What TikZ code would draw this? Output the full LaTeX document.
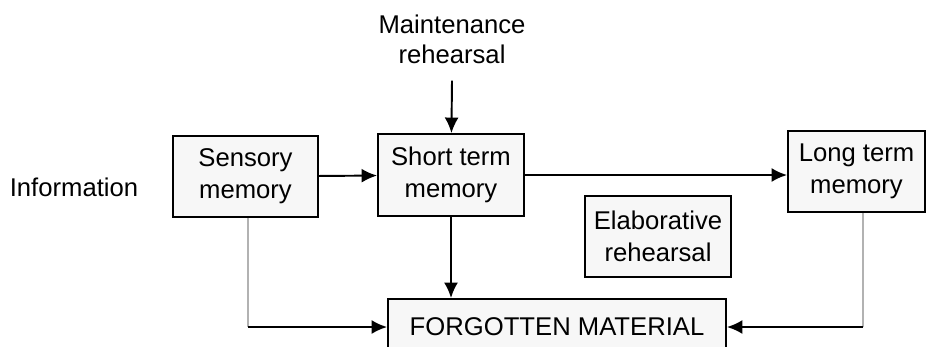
\documentclass[tikz,border=0pt]{standalone}
\usepackage{fontspec}
\setmainfont{Liberation Sans}
\usetikzlibrary{arrows.meta}

\tikzset{
  memorybox/.style={draw, line width=1.1pt, fill=gray!6, align=center, inner sep=2pt},
  flow/.style={-{Latex[length=3.1mm, width=2.8mm]}, line width=1.1pt},
  faint/.style={draw=gray!60, line width=1pt}
}

\begin{document}
\begin{tikzpicture}[x=0.02cm, y=-0.02cm, font=\fontsize{14.6pt}{18pt}\selectfont]
    \path[use as bounding box, clip] (0,0) rectangle (926,346);
    \node (info) at (74,187) {Information};
    \node[align=center, font=\fontsize{14.6pt}{17pt}\selectfont] (maint) at (452,39) {Maintenance\\rehearsal};
    \node[memorybox, minimum width=2.9cm, minimum height=1.62cm] (sen) at (245.5,176.5) {Sensory\\memory};
    \node[memorybox, minimum width=2.92cm, minimum height=1.64cm] (stm) at (451,175) {Short term\\memory};
    \node[memorybox, minimum width=2.74cm, minimum height=1.62cm] (ltm) at (856.5,171.5) {Long term\\memory};
    \node[memorybox, minimum width=2.92cm, minimum height=1.62cm] (elab) at (658,236.5) {Elaborative\\rehearsal};
    \node[memorybox, minimum width=6.76cm, minimum height=1.12cm] (forgot) at (557,327) {FORGOTTEN MATERIAL};

    \coordinate (senturn) at ([xshift=0.05cm]sen.south |- forgot);
    \coordinate (ltmturn) at ([xshift=0.13cm]ltm.south |- forgot);

    \draw[flow] (sen) -- (stm);
    \draw[flow] (stm.east) -- (stm.east -| ltm.west);
    \draw[flow] ([yshift=-0.22cm]maint.south) -- (stm);
    \draw[flow] (stm) -- (stm |- forgot.north);
    \draw[faint] ([xshift=0.05cm]sen.south) -- (senturn);
    \draw[flow] (senturn) -- (forgot);
    \draw[faint] ([xshift=0.13cm]ltm.south) -- (ltmturn);
    \draw[flow] (ltmturn) -- (forgot);
\end{tikzpicture}
\end{document}
